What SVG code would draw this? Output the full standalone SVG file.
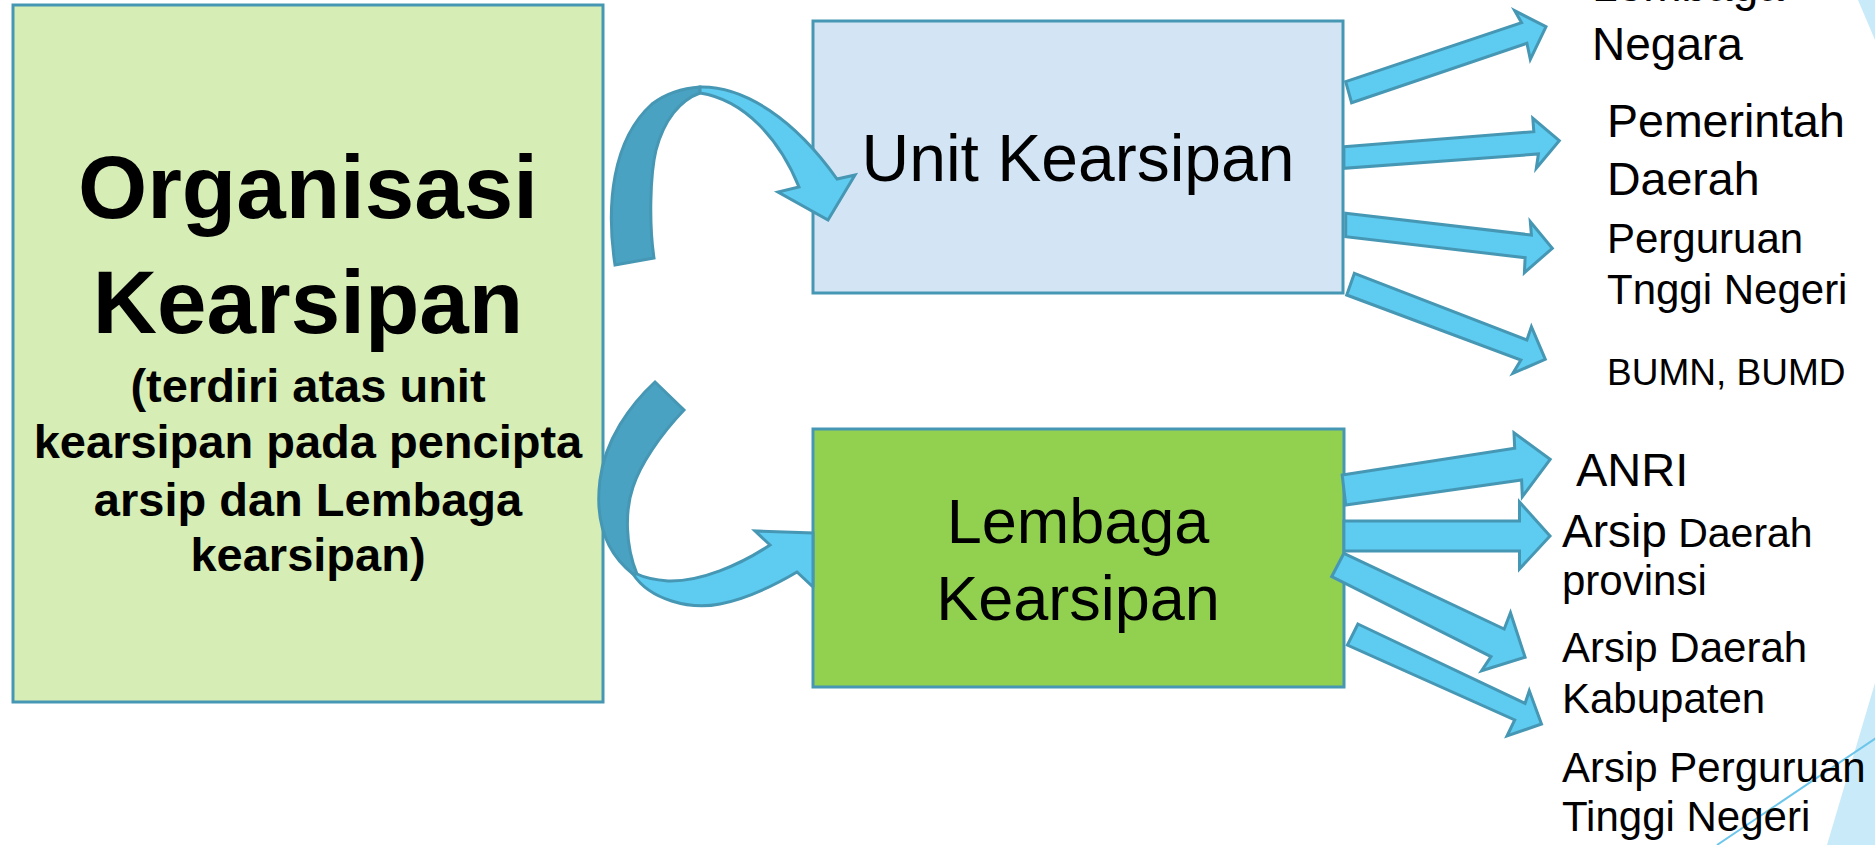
<svg xmlns="http://www.w3.org/2000/svg" width="1875" height="845" viewBox="0 0 1875 845">
<style>
.box{stroke:#4697b4;stroke-width:3}
.arr{fill:#5ecbf0;stroke:#4697b4;stroke-width:3;stroke-linejoin:miter}
.dark{fill:#4aa2c3;stroke:#4697b4;stroke-width:3}
.t{font-family:"Liberation Sans",Arial,sans-serif;fill:#000}
.b{font-weight:bold;text-anchor:middle}
.c{text-anchor:middle}
</style>
<rect width="1875" height="845" fill="#ffffff"/>
<g id="decor">
<polygon points="1875,683 1875,845 1827,845" fill="#c9eaf8"/>
<line x1="1717" y1="845" x2="1876" y2="738" stroke="#6cc6ec" stroke-width="2"/>
<polygon points="1858,0 1875,0 1875,40" fill="#c9eaf8"/>
</g>
<g id="node-organisasi">
<rect class="box" x="13" y="5" width="590" height="697" fill="#d7edb6"/>
<text class="t b" x="308" y="218" font-size="89">Organisasi</text>
<text class="t b" x="308" y="333" font-size="89">Kearsipan</text>
<text class="t b" x="308" y="402" font-size="47">(terdiri atas unit</text>
<text class="t b" x="308" y="458" font-size="47">kearsipan pada pencipta</text>
<text class="t b" x="308" y="516" font-size="47">arsip dan Lembaga</text>
<text class="t b" x="308" y="571" font-size="47">kearsipan)</text>
</g>
<g id="node-unit">
<rect class="box" x="813" y="21" width="530" height="272" fill="#d3e5f5"/>
<text class="t c" x="1078" y="181" font-size="66">Unit Kearsipan</text>
</g>
<g id="node-lembaga">
<rect class="box" x="813" y="429" width="531" height="258" fill="#92d050"/>
<text class="t c" x="1078" y="543" font-size="63">Lembaga</text>
<text class="t c" x="1078" y="620" font-size="63">Kearsipan</text>
</g>
<g id="labels">
<text class="t" x="1592" y="1" font-size="46">Lembaga</text>
<text class="t" x="1592" y="60" font-size="46">Negara</text>
<text class="t" x="1607" y="137" font-size="46.5">Pemerintah</text>
<text class="t" x="1607" y="195" font-size="46.5">Daerah</text>
<text class="t" x="1607" y="253" font-size="42">Perguruan</text>
<text class="t" x="1607" y="304" font-size="42">Tnggi Negeri</text>
<text class="t" x="1607" y="385" font-size="37">BUMN, BUMD</text>
<text class="t" x="1576" y="486" font-size="47">ANRI</text>
<text class="t" x="1562" y="547"><tspan font-size="46">Arsip</tspan><tspan font-size="41"> Daerah</tspan></text>
<text class="t" x="1562" y="595" font-size="42">provinsi</text>
<text class="t" x="1562" y="662" font-size="42">Arsip Daerah</text>
<text class="t" x="1562" y="713" font-size="42">Kabupaten</text>
<text class="t" x="1562" y="782" font-size="42">Arsip Perguruan</text>
<text class="t" x="1562" y="831" font-size="42">Tinggi Negeri</text>
</g>
<g id="connectors">
<path class="dark" d="M615,265 C606,205 612,140 652,104 C668,92 684,88 700,87 L700,93 C680,100 664,120 656,150 C650,175 649,225 654,258 Z"/>
<path class="arr" d="M700,87 C745,86 795,120 837,179 L855,175 L828,220 L778,192 L799,187 C780,140 745,100 700,93 Z"/>
<path class="dark" d="M655,382 C630,405 605,440 600,480 C595,520 605,552 633,574 L637,574 C625,545 625,510 633,487 C640,465 660,435 684,410 Z"/>
<path class="arr" d="M633,574 C650,600 690,610 720,604 C750,598 775,585 797,572 L812,586 L813,586 L813,533 L755,531 L770,545 C740,565 700,582 668,581 C655,580 645,578 637,574 Z"/>
<polygon class="arr" points="1345.7,81.7 1521.6,22.7 1514.7,10.7 1546,26.7 1530.3,59.3 1526.9,43.3 1351.6,102.7"/>
<polygon class="arr" points="1343.9,146.7 1533.8,131.7 1532.8,118.3 1559.3,140.7 1536.3,168.3 1538.4,154 1343.9,168.3"/>
<polygon class="arr" points="1345.7,213.3 1531.4,235 1530.3,221.7 1552.3,248.3 1524.4,272.7 1525.1,257.7 1345.7,236.7"/>
<polygon class="arr" points="1354.4,273.3 1526.9,340 1531.4,326.7 1545.3,359.3 1512.9,373.3 1520.9,360 1346.7,295"/>
<polygon class="arr" points="1342.2,475 1514.7,448.3 1514,432.7 1550.2,459.3 1522.3,496.7 1521.6,480 1345.7,505"/>
<polygon class="arr" points="1343.9,521 1519.5,521 1519.5,502 1550,536 1519.5,569 1519.5,551 1343.9,551"/>
<polygon class="arr" points="1343.9,553.3 1504.2,629 1510.5,612.7 1525.1,657.3 1481.6,670.7 1491,656.7 1331.7,576.7"/>
<polygon class="arr" points="1357.9,624 1525.1,703.3 1529.3,690.7 1541.5,724 1507,736 1514.7,720 1347.4,645"/>
</g>
</svg>
